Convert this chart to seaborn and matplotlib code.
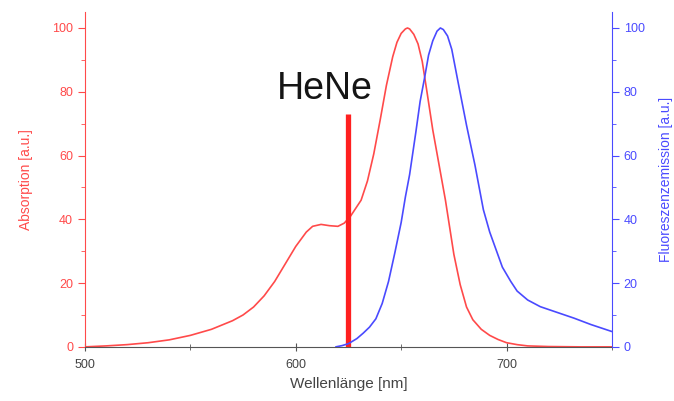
import pandas as pd
import seaborn as sns
import matplotlib.pyplot as plt
from matplotlib.ticker import MultipleLocator

# absorption (red, left axis)
abs_wl = [500, 510, 520, 530, 540, 550, 560, 570, 575, 580, 585, 590, 595, 600,
          605, 608, 612, 616, 620, 623, 626, 631, 634, 637, 640, 643, 646, 648,
          650, 652, 653, 654, 656, 658, 660, 662, 665, 668, 671, 675, 678, 681,
          684, 688, 692, 696, 700, 705, 710, 720, 735, 750]
abs_val = [0, 0.3, 0.7, 1.3, 2.2, 3.6, 5.5, 8.2, 10, 12.5, 16, 20.5, 26, 31.5,
           36, 37.8, 38.4, 38, 37.8, 38.8, 41, 46, 52, 60.5, 71, 82, 91, 95.5,
           98.3, 99.7, 100, 99.7, 98, 95, 89.5, 81, 68, 57, 46, 29, 19.5, 12.5,
           8.5, 5.5, 3.6, 2.3, 1.3, 0.7, 0.3, 0.1, 0, 0]

# fluorescence emission (blue, right axis)
em_wl = [619, 622, 625, 629, 632, 635, 638, 641, 644, 647, 650, 652, 654, 657,
         659, 661, 663, 665, 667, 668.6, 670, 672, 674, 677, 681, 685, 689,
         692, 695, 698, 702, 705, 710, 716, 724, 732, 740, 750]
em_val = [0, 0.4, 1, 2.6, 4.3, 6.2, 8.8, 13.6, 20.5, 29.5, 39, 47, 54, 67.5,
          77, 84, 91.5, 96, 99, 100, 99.5, 97.5, 93.3, 83, 69.5, 57, 43,
          36, 30.5, 25, 20.5, 17.5, 14.7, 12.6, 10.8, 9, 7, 4.8]

# HeNe laser line
hene_wl = 625
hene_top = 73

red = '#ff4a4a'
blue = '#4a4aff'

sns.set_style('white')
plt.rcParams['font.family'] = ['Liberation Sans', 'DejaVu Sans']

df_abs = pd.DataFrame({'wl': abs_wl, 'val': abs_val})
df_em = pd.DataFrame({'wl': em_wl, 'val': em_val})

fig, ax = plt.subplots(figsize=(6.74, 4.01), dpi=100)
fig.subplots_adjust(left=0.126, right=0.908, bottom=0.135, top=0.97)

sns.lineplot(x='wl', y='val', data=df_abs, ax=ax, color=red, linewidth=1.2)
ax2 = ax.twinx()
sns.lineplot(x='wl', y='val', data=df_em, ax=ax2, color=blue, linewidth=1.2)

ax.vlines(hene_wl, 0, hene_top, color='#ff2020', linewidth=3.8, zorder=5)
ax.text(591, 77.8, 'HeNe', fontsize=27, color='#151515')

ax.set_xlim(500, 750)
ax.set_ylim(0, 105)
ax2.set_ylim(0, 105)

ax.xaxis.set_major_locator(MultipleLocator(100))
ax.xaxis.set_minor_locator(MultipleLocator(50))
for a in (ax, ax2):
    a.yaxis.set_major_locator(MultipleLocator(20))
    a.yaxis.set_minor_locator(MultipleLocator(10))

ax.set_xlabel('Wellenlänge [nm]', fontsize=11, color='#444444', labelpad=4)
ax.set_ylabel('Absorption [a.u.]', fontsize=10, color=red, labelpad=14)
ax2.set_ylabel('Fluoreszenzemission [a.u.]', fontsize=10, color=blue, labelpad=10)

for a in (ax, ax2):
    a.spines['top'].set_visible(False)
ax.spines['right'].set_visible(False)
ax.spines['left'].set_color(red)
ax2.spines['left'].set_visible(False)
ax2.spines['right'].set_color(blue)
ax.spines['bottom'].set_color('#555555')
ax2.spines['bottom'].set_visible(False)

ax.tick_params(axis='x', which='both', direction='inout', colors='#555555',
               labelcolor='#444444', labelsize=9, bottom=True, pad=6)
ax.tick_params(axis='x', which='major', length=6)
ax.tick_params(axis='x', which='minor', length=4)
ax.tick_params(axis='y', which='both', direction='out', colors=red,
               labelsize=9, left=True)
ax.tick_params(axis='y', which='major', length=5)
ax.tick_params(axis='y', which='minor', length=3)
ax2.tick_params(axis='y', which='both', direction='out', colors=blue,
                labelsize=9, right=True)
ax2.tick_params(axis='y', which='major', length=5)
ax2.tick_params(axis='y', which='minor', length=3)

plt.savefig('out.png', dpi=100)
